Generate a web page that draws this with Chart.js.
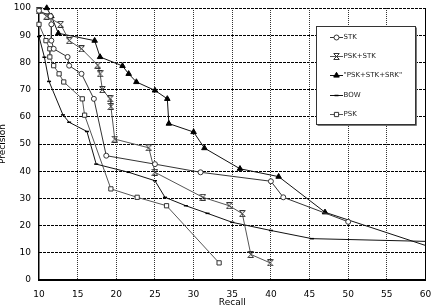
<!DOCTYPE html>
<html><head><meta charset="utf-8">
<script src="https://cdn.jsdelivr.net/npm/chart.js@4.4.1/dist/chart.umd.min.js"></script>
<style>
html,body{margin:0;padding:0;background:#fff;overflow:hidden}
#wrap{position:relative;width:431px;height:308px}
#c{display:block;position:relative;z-index:1}
</style>
</head><body>
<div id="wrap"><canvas id="c" width="431" height="308"></canvas></div>
<script>
// ---- data ----
const seriesNames = ['STK', 'PSK+STK', '"PSK+STK+SRK"', 'BOW', 'PSK'];
const xTitle = 'Recall';
const yTitle = 'Precision';

const stkRecall    = [10, 11.5, 11.6, 11.6, 11.9, 13.7, 13.9, 15.5, 17.1, 18.7, 25, 30.9, 40, 41.6, 50];
const stkPrecision = [99, 97, 94, 88, 85, 82, 78.8, 75.8, 66.6, 45.7, 42.6, 39.6, 36.3, 30.4, 21.4];

const pskStkRecall    = [10, 11, 12.8, 13.9, 15.5, 17.6, 17.9, 18.2, 19.2, 19.3, 19.8, 24.2, 25, 31.2, 34.6, 36.3, 37.4, 39.9];
const pskStkPrecision = [99, 97, 94, 88, 85, 79, 75.8, 70, 66.6, 63.8, 51.8, 48.6, 39.6, 30.4, 27.3, 24.4, 9.4, 6.3];

const srkRecall    = [11, 11.6, 12.5, 17.2, 17.9, 20.8, 21.6, 22.6, 25, 26.6, 26.8, 30, 31.4, 36, 41, 47, 60];
const srkPrecision = [100, 97, 90.7, 88, 82, 78.7, 75.8, 72.8, 69.7, 66.6, 57.5, 54.4, 48.5, 40.9, 38, 24.9, 12.7];

const bowRecall    = [10, 10.7, 11.3, 13.1, 13.9, 16.2, 17.4, 21.6, 25, 26.3, 29, 31.8, 35, 40, 45.3, 60];
const bowPrecision = [89.5, 81.9, 73, 60.7, 58, 54.6, 42.6, 39.6, 36.5, 30.4, 27.3, 24.5, 21.2, 18.2, 15.2, 14.2];

const pskRecall    = [10, 10.9, 11.4, 11.4, 11.9, 12.6, 13.2, 15.6, 15.9, 19.3, 22.7, 26.5, 33.3];
const pskPrecision = [94, 88, 85, 82, 78.8, 75.8, 72.8, 66.6, 60.6, 33.5, 30.4, 27.3, 6.3];

const xTicks = {min: 10, max: 60, step: 5};
const yTicks = {min: 0, max: 100, step: 10};

// ---- styling helpers ----
const FONT = '"DejaVu Sans", Verdana, sans-serif';
function toPoints(xs, ys) { return xs.map((x, i) => ({x: x, y: ys[i]})); }

function hourglass(color) {
  const c = document.createElement('canvas');
  c.width = 7; c.height = 7;
  const g = c.getContext('2d');
  g.strokeStyle = color; g.lineWidth = 1;
  g.beginPath();
  g.moveTo(0.5, 0.5); g.lineTo(6.5, 0.5);
  g.moveTo(0.5, 6.5); g.lineTo(6.5, 6.5);
  g.moveTo(1, 1); g.lineTo(6, 6);
  g.moveTo(6, 1); g.lineTo(1, 6);
  g.stroke();
  return c;
}
const hgMarker = hourglass('#333');
const edgeR = (r) => (ctx) => (ctx.raw && ctx.raw.x >= xTicks.max) ? 0 : r;

const datasets = [
  {label: seriesNames[0], data: toPoints(stkRecall, stkPrecision), borderColor: '#333', backgroundColor: '#fff',
   pointStyle: 'circle', pointRadius: 2.5, pointBorderColor: '#333', pointBackgroundColor: '#fff'},
  {label: seriesNames[1], data: toPoints(pskStkRecall, pskStkPrecision), borderColor: '#555', backgroundColor: '#555',
   pointStyle: hgMarker, pointRadius: 3.5, pointBorderColor: '#333', pointBackgroundColor: '#333'},
  {label: seriesNames[2], data: toPoints(srkRecall, srkPrecision), borderColor: '#111', backgroundColor: '#000',
   pointStyle: 'triangle', pointRadius: edgeR(3.2), pointBorderColor: '#000', pointBackgroundColor: '#000'},
  {label: seriesNames[3], data: toPoints(bowRecall, bowPrecision), borderColor: '#111', backgroundColor: '#000',
   pointStyle: 'line', pointRadius: edgeR(2), pointBorderColor: '#000', pointBackgroundColor: '#000', pointBorderWidth: 1.5},
  {label: seriesNames[4], data: toPoints(pskRecall, pskPrecision), borderColor: '#555', backgroundColor: '#fff',
   pointStyle: 'rect', pointRadius: 3, pointBorderColor: '#333', pointBackgroundColor: '#fff'}
];
datasets.forEach(d => { d.showLine = true; d.borderWidth = 1; d.fill = false; d.clip = false; if (d.pointBorderWidth == null) d.pointBorderWidth = 1; });

// legend drawn inside the plot, as in the reference
const boxLegend = {
  id: 'boxLegend',
  afterDraw(chart) {
    const ctx = chart.ctx;
    const L = 316, T = 26, W = 99, H = 98;
    ctx.save();
    ctx.setLineDash([]);
    ctx.fillStyle = '#fff';
    ctx.fillRect(L, T, W, H);
    ctx.strokeStyle = '#333'; ctx.lineWidth = 1;
    ctx.strokeRect(L + 0.5, T + 0.5, W, H);
    ctx.strokeStyle = '#777';
    ctx.beginPath(); ctx.moveTo(L + 1.5, T + H + 1.5); ctx.lineTo(L + W + 1.5, T + H + 1.5); ctx.lineTo(L + W + 1.5, T + 1.5); ctx.stroke();
    ctx.font = '7px ' + FONT;
    ctx.textBaseline = 'middle';
    ctx.textAlign = 'left';
    chart.data.datasets.forEach((ds, i) => {
      const y = Math.round(T + 10.5 + i * 19.4) + 0.5;
      ctx.strokeStyle = ds.borderColor; ctx.lineWidth = 1;
      ctx.beginPath(); ctx.moveTo(330, y); ctx.lineTo(343, y); ctx.stroke();
      ctx.strokeStyle = ds.pointBorderColor; ctx.fillStyle = ds.pointBackgroundColor;
      ctx.lineWidth = ds.pointBorderWidth;
      const r = typeof ds.pointRadius === 'function' ? ds.pointRadius({raw: {x: 0}}) : ds.pointRadius;
      try {
        Chart.helpers.drawPoint(ctx, {pointStyle: ds.pointStyle, radius: r, borderWidth: ds.pointBorderWidth, rotation: 0}, 336.5, y);
      } catch (e) {}
      ctx.fillStyle = '#222';
      ctx.fillText(ds.label, 343.5, y);
    });
    ctx.restore();
  }
};

const chart = new Chart(document.getElementById('c'), {
  type: 'scatter',
  data: {datasets: datasets},
  plugins: [boxLegend],
  options: {
    responsive: false,
    animation: false,
    layout: {padding: {top: 8, right: 5, left: 0, bottom: 0}},
    plugins: {legend: {display: false}, tooltip: {enabled: false}},
    elements: {line: {tension: 0}},
    scales: {
      x: {
        type: 'linear', min: xTicks.min, max: xTicks.max,
        ticks: {stepSize: xTicks.step, color: '#000', font: {family: FONT, size: 9}, padding: 9, maxRotation: 0},
        grid: {display: false, drawTicks: false},
        border: {display: true, color: '#000', width: 2},
        title: {display: true, text: xTitle, color: '#000', font: {family: FONT, size: 9}, padding: {top: 0, bottom: 0}},
        afterFit: (s) => { s.height = 28; s.paddingLeft = 0; s.paddingRight = 0; }
      },
      y: {
        type: 'linear', min: yTicks.min, max: yTicks.max,
        ticks: {stepSize: yTicks.step, color: '#000', font: {family: FONT, size: 9}, padding: 8},
        grid: {display: false, drawTicks: false},
        border: {display: true, color: '#000', width: 1.5},
        title: {display: true, text: yTitle, color: '#000', font: {family: FONT, size: 9}, padding: {top: -3, bottom: 0}},
        afterFit: (s) => { s.width = 39; s.paddingTop = 0; s.paddingBottom = 0; }
      }
    }
  }
});

// grid: dashed horizontal / dotted vertical lines, placed from the chart's own scales and ticks
(function addGrid() {
  const a = chart.chartArea, xs = chart.scales.x, ys = chart.scales.y;
  let below = true;
  try {
    const px = chart.ctx.getImageData(Math.round(xs.getPixelForValue(57)), Math.round(ys.getPixelForValue(95)), 1, 1).data;
    below = px[3] === 0;
  } catch (e) { below = true; }
  const layer = document.createElement('div');
  layer.style.cssText = 'position:absolute;left:0;top:0;width:431px;height:308px;pointer-events:none;z-index:' + (below ? 0 : 2);
  const w = a.right - a.left, h = a.bottom - a.top;
  ys.ticks.forEach(t => {
    if (t.value <= yTicks.min) return;
    const py = Math.round(ys.getPixelForValue(t.value) - 0.5);
    const d = document.createElement('div');
    d.style.cssText = 'position:absolute;left:' + a.left + 'px;top:' + py + 'px;width:' + w + 'px;height:1px;' +
      'background:repeating-linear-gradient(to right,#000 0px,#000 3px,transparent 3px,transparent 4px)';
    layer.appendChild(d);
  });
  xs.ticks.forEach(t => {
    if (t.value <= xTicks.min) return;
    const px = Math.round(xs.getPixelForValue(t.value) - 0.5);
    const d = document.createElement('div');
    const bg = t.value >= xTicks.max ? '#000' :
      'repeating-linear-gradient(to bottom,#333 0px,#333 1px,transparent 1px,transparent 2px)';
    d.style.cssText = 'position:absolute;left:' + px + 'px;top:' + a.top + 'px;width:1px;height:' + h + 'px;background:' + bg;
    layer.appendChild(d);
  });
  document.getElementById('wrap').appendChild(layer);
})();
</script>
</body></html>
